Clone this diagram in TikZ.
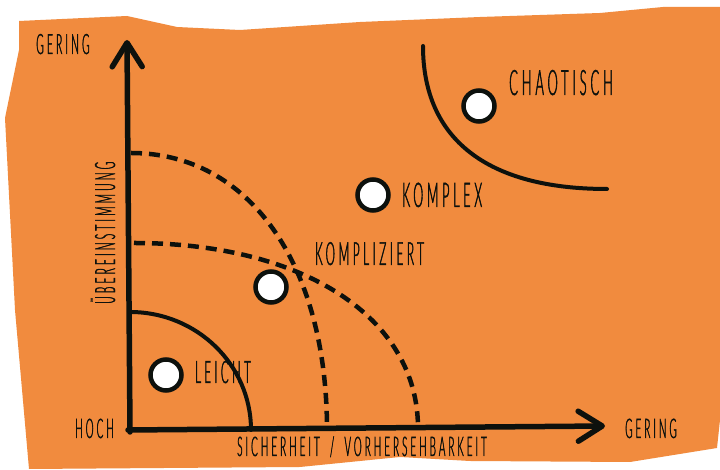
\documentclass[tikz,border=0pt]{standalone}
\usepackage{fontspec}
\usetikzlibrary{arrows.meta}
\IfFontExistsTF{Lato Light}
  {\newfontfamily\handfont[FakeStretch=0.37,LetterSpace=11,FakeBold=1.2]{Lato Light}}
  {\newfontfamily\handfont[FakeStretch=0.37,LetterSpace=11]{Lato}}
\definecolor{paper}{HTML}{F18B3E}
\definecolor{ink}{HTML}{0D110D}

\begin{document}
\begin{tikzpicture}[x=1pt,y=1pt,
  axis/.style={ink, line width=5.5pt, line cap=round, -{Straight Barb[length=24pt,width=30pt,round]}},
  zone/.style={ink, line width=4pt, line cap=round},
  border/.style={ink, line width=4.5pt, dash pattern=on 11pt off 7pt},
  dot/.style={circle, draw=ink, fill=white, line width=4.5pt, minimum size=31pt, inner sep=0pt},
  lbl/.style={text=ink, inner sep=0pt, anchor=base west, font=\handfont\fontsize{#1}{#1}\selectfont},
  lbl/.default=28]
  \useasboundingbox (0,0) rectangle (720,470);
  \fill[white] (0,0) rectangle (720,470);
  % torn paper
  \fill[paper] (19,449) -- (127,454) -- (177,443) -- (240,440) -- (360,448) -- (480,453)
    -- (600,457) -- (663,463) -- (720,463) -- (720,50) -- (717,22) -- (630,8) -- (470,9)
    -- (400,13) -- (300,3) -- (29,1) -- (15,160) -- (5,352) -- (19,420) -- cycle;

  \coordinate (origin) at (130,38);
  \coordinate (ytip) at (127,430);
  \coordinate (xstart) at (128,40);
  \coordinate (xtip) at (605,44);

  % zones
  \draw[zone] (130,158) arc[start angle=90, end angle=0, x radius=121, y radius=118];
  \draw[border] (131,317) .. controls (249,317) and (327,206) .. (327,40);
  \draw[border] (134,227) .. controls (304,227) and (418,152) .. (418,42);
  \draw[zone] (423,424) .. controls (423,331) and (487,281) .. (607,281);

  % axes
  \draw[axis] (origin) -- (ytip);
  \draw[axis] (xstart) -- (xtip);

  % domains
  \node[dot] (leicht) at (166,95) {};
  \node[dot] (kompliziert) at (271,183) {};
  \node[dot] (komplex) at (373,275) {};
  \node[dot] (chaotisch) at (479,364) {};
  \node[lbl=31] (leichtlbl) at (195,87) {LEICHT};
  \node[lbl=32] (komplizlbl) at (315,205) {KOMPLIZIERT};
  \node[lbl=34] (komplexlbl) at (402,263) {KOMPLEX};
  \node[lbl=35] (chaoslbl) at (509,375) {CHAOTISCH};

  % axis labels
  \node[lbl] (ylow) at (36,416) {GERING};
  \node[lbl=27] (hoch) at (75,32) {HOCH};
  \node[lbl=27] (xlow) at (625,32) {GERING};
  \node[lbl=27] (xname) at (237,14) {SICHERHEIT \,/\, VORHERSEHBARKEIT};
  \node[lbl, rotate=90] (yname) at (115,166) {ÜBEREINSTIMMUNG};
\end{tikzpicture}
\end{document}
